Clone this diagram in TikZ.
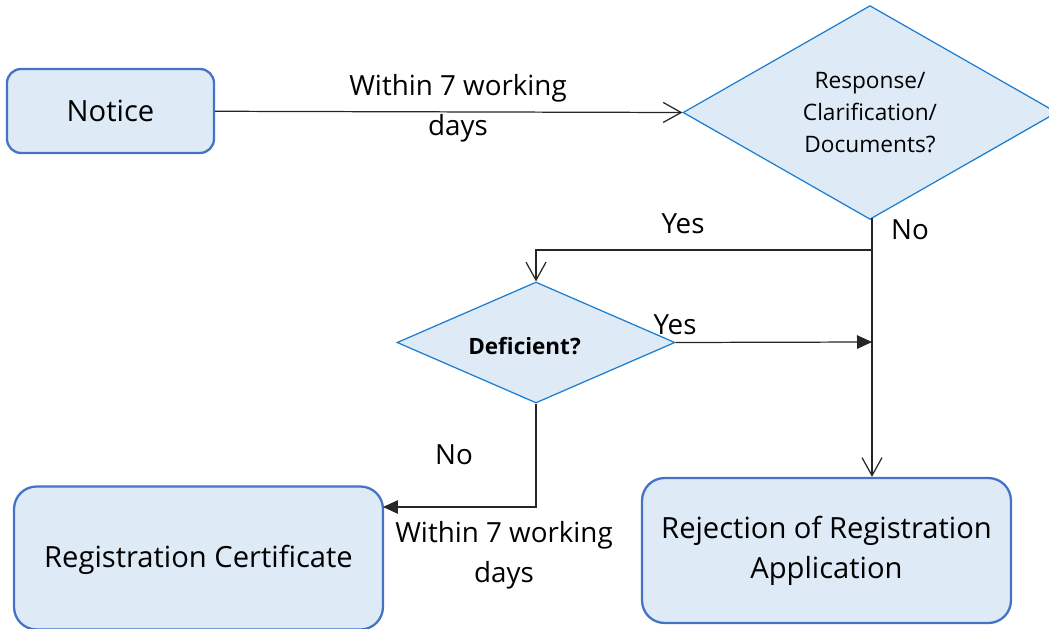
\documentclass[tikz,border=0pt]{standalone}
\usepackage{fontspec}
\setmainfont{Open Sans}
\usetikzlibrary{shapes.geometric,arrows.meta}
\definecolor{boxfill}{HTML}{DEEAF6}
\definecolor{boxline}{HTML}{4472C4}
\definecolor{queryline}{HTML}{1C7CD0}

\begin{document}
\begin{tikzpicture}
  [x=0.02cm, y=-0.02cm,
   stage/.style={rectangle, rounded corners=0.45cm, fill=boxfill, draw=boxline, line width=1.3pt,
                 align=center, inner sep=0pt, font=\fontsize{16.6}{22.8}\selectfont},
   query/.style={diamond, fill=boxfill, draw=queryline, line width=0.7pt, align=center, inner sep=0pt},
   link/.style={draw=black!85, line width=0.7pt},
   open/.style={link, -{Straight Barb[length=3.6mm, width=4mm]}},
   solid tip/.style={link, -{Triangle[length=3mm, width=2.7mm]}},
   note/.style={align=center, font=\fontsize{15.8}{22.8}\selectfont}]

  \useasboundingbox (0,0) rectangle (1049,629);

  \node[stage, rounded corners=0.28cm, minimum width=4.14cm, minimum height=1.68cm] (notice) at (110.5,111) {Notice};
  \node[query, minimum width=7.48cm, minimum height=4.22cm,
        font=\fontsize{12.9}{18}\selectfont] (resp) at (870,112.5) {Response/\\Clarification/\\Documents?};
  \node[query, minimum width=5.56cm, minimum height=2.42cm] (defic) at (536,342.5) {};
  \node[font=\bfseries\fontsize{12.8}{14}\selectfont] (defictext) at (524.5,346) {Deficient?};
  \node[stage, minimum width=7.38cm, minimum height=2.86cm, text depth=0.08cm] (cert) at (198.5,558) {Registration Certificate};
  \node[stage, minimum width=7.38cm, minimum height=2.9cm] (reject) at (826.5,550.5) {Rejection of Registration\\Application};

  \coordinate (split) at (872,250);
  \coordinate (merge) at (872,342);
  \coordinate (certin) at (383,507);

  \draw[open] (notice) -- (resp.west);
  \draw[link] (872,218) -- (split);
  \draw[open] (split) -| (defic.north);
  \draw[open] (split) -- (reject.north -| split);
  \draw[solid tip] (defic.east) -- (merge);
  \draw[solid tip] (defic.south) |- (certin);

  \node[note] (t1) at (458,108) {Within 7 working\\days};
  \node[note] (t2) at (683,224) {Yes};
  \node[note] (t3) at (910,230) {No};
  \node[note] (t4) at (675,325) {Yes};
  \node[note] (t5) at (454,455) {No};
  \node[note] (t6) at (504,555) {Within 7 working\\days};
\end{tikzpicture}
\end{document}
